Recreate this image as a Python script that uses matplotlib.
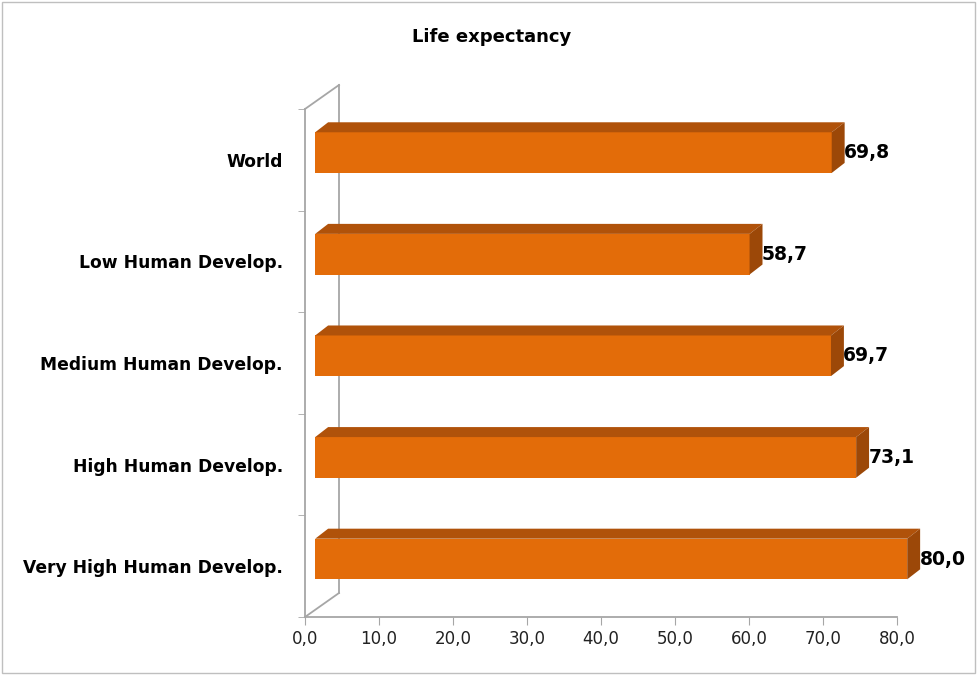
import numpy as np
import matplotlib.pyplot as plt
from matplotlib.patches import Polygon, Rectangle

# Data (bottom to top, as drawn)
categories = ['Very High Human Develop.', 'High Human Develop.',
              'Medium Human Develop.', 'Low Human Develop.', 'World']
life_exp = [80.0, 73.1, 69.7, 58.7, 69.8]
xticks = [0, 10, 20, 30, 40, 50, 60, 70, 80]

front_col = '#E36C09'
top_col = '#B0520A'
side_col = '#9C4808'
axis_col = '#A6A6A6'

W, H = 977, 675
fig = plt.figure(figsize=(W / 100, H / 100), dpi=100)
# front plane of the 3D plot area, in pixels
x0, x1, yb, yt = 305, 897, 617, 109
ax = fig.add_axes([x0 / W, (H - yb) / H, (x1 - x0) / W, (yb - yt) / H])
ax.set_xlim(0, 80)
ax.set_ylim(0, len(categories))

# depth offset of the back wall, in data units
DX = 34 / ((x1 - x0) / 80)
DY = 24 / ((yb - yt) / len(categories))
d0, d1 = 0.30, 0.68
half = 0.2
bar_dy = 10 / ((yb - yt) / len(categories))  # top face height

for i, v in enumerate(life_exp):
    ylo, yhi = i + 0.5 - half, i + 0.5 + half
    fx, fy = d0 * DX, d0 * DY
    bx, by = d1 * DX, d0 * DY + bar_dy
    front = Polygon([(fx, ylo + fy), (v + fx, ylo + fy), (v + fx, yhi + fy), (fx, yhi + fy)],
                    closed=True, fc=front_col, ec='none', clip_on=False, zorder=3)
    top = Polygon([(fx, yhi + fy), (v + fx, yhi + fy), (v + bx, yhi + by), (bx, yhi + by)],
                  closed=True, fc=top_col, ec='none', clip_on=False, zorder=3)
    side = Polygon([(v + fx, ylo + fy), (v + bx, ylo + by), (v + bx, yhi + by), (v + fx, yhi + fy)],
                   closed=True, fc=side_col, ec='none', clip_on=False, zorder=3)
    for p in (front, top, side):
        ax.add_patch(p)
    ax.text(v + bx - 0.1, i + 0.5 + fy, f'{v:.1f}'.replace('.', ','),
            ha='left', va='center', fontsize=13.5, fontweight='bold', color='black',
            clip_on=False, zorder=4)

# back wall and floor edges
n = len(categories)
ax.plot([DX, DX], [DY, n + DY], color=axis_col, lw=1.3, clip_on=False, zorder=1)
ax.plot([0, DX], [0, DY], color=axis_col, lw=1.3, clip_on=False, zorder=1)
ax.plot([0, DX], [n, n + DY], color=axis_col, lw=1.3, clip_on=False, zorder=1)

for s in ['top', 'right']:
    ax.spines[s].set_visible(False)
for s in ['left', 'bottom']:
    ax.spines[s].set_color(axis_col)
    ax.spines[s].set_linewidth(1.3)

ax.set_xticks(xticks)
ax.set_xticklabels([f'{t:.1f}'.replace('.', ',') for t in xticks], fontsize=12, color='#222222')
ax.tick_params(axis='x', length=6, color=axis_col, pad=3)

ax.set_yticks(np.arange(n) + 0.5)
ax.set_yticklabels(categories, fontsize=12.3, fontweight='bold')
ax.set_yticks(np.arange(n + 1), minor=True)
ax.tick_params(axis='y', which='major', length=0, pad=16)
ax.tick_params(axis='y', which='minor', length=5, color=axis_col)

fig.text(492 / W, 1 - 37 / H, 'Life expectancy', ha='center', va='center',
         fontsize=13, fontweight='bold')

fig.patches.append(Rectangle((2 / W, 2 / H), 1 - 4 / W, 1 - 4 / H, transform=fig.transFigure,
                             fill=False, ec='#BFBFBF', lw=1))

plt.savefig('out.png', dpi=100)
